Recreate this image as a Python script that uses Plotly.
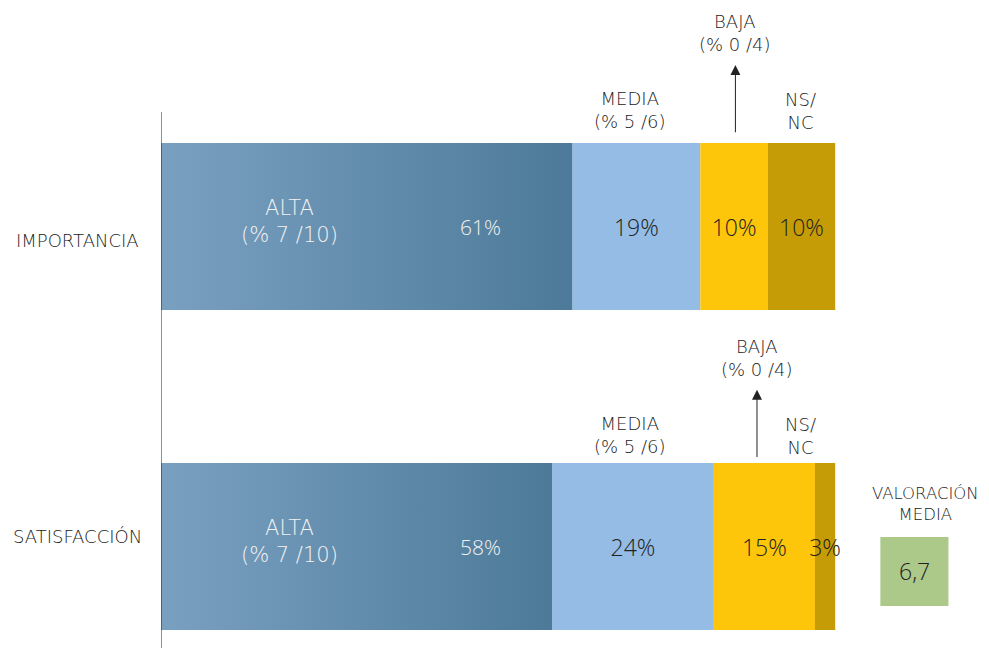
import plotly.graph_objects as go

# data
rows = ["IMPORTANCIA", "SATISFACCIÓN"]
alta = [61, 58]
media = [19, 24]
baja = [10, 15]
nsnc = [10, 3]
valoracion_media = "6,7"

segment_names = ["MEDIA", "BAJA", "NS/NC"]
segment_values = [media, baja, nsnc]
segment_colors = ["#95bce4", "#fdc60b", "#c69c06"]

bar_w = 0.522
label_font = "DejaVu Sans"
num_font = "Open Sans"
dark = "#222222"

fig = go.Figure()

# ALTA segments drawn as filled shapes so they can carry a horizontal gradient
for i, v in enumerate(alta):
    y0, y1 = i - bar_w / 2, i + bar_w / 2
    fig.add_trace(go.Scatter(
        x=[0, v, v, 0, 0], y=[y0, y0, y1, y1, y0],
        mode="lines", fill="toself", line=dict(width=0),
        fillgradient=dict(type="horizontal",
                          colorscale=[[0, "#7aa0c1"], [1, "#4d7a99"]]),
        hoverinfo="skip", showlegend=False))

# the other segments as stacked bars
base = list(alta)
for name, vals, col in zip(segment_names, segment_values, segment_colors):
    fig.add_trace(go.Bar(
        x=vals, y=[0, 1], base=base, orientation="h", width=bar_w,
        marker=dict(color=col, line=dict(width=0)), name=name,
        showlegend=False))
    # percentage labels at segment centres
    fig.add_trace(go.Scatter(
        x=[b + v / 2 for b, v in zip(base, vals)], y=[0.01, 1.01],
        mode="text", text=[f"{v}%" for v in vals],
        textfont=dict(size=23, color=dark, family=num_font, weight=300),
        hoverinfo="skip", showlegend=False, cliponaxis=False))
    base = [b + v for b, v in zip(base, vals)]

# row labels (placed by hand, centred like the original)
for i, (name, dy) in enumerate(zip(rows, [0.042, -0.03])):
    fig.add_annotation(x=-0.0993, xref="paper", y=i + dy, text=name,
                       showarrow=False, xanchor="center",
                       font=dict(size=18, color=dark))

# ALTA labels
for i, v in enumerate(alta):
    fig.add_annotation(x=19.1, y=i - 0.015, text="ALTA<br>(% 7 /10)",
                       showarrow=False,
                       font=dict(size=21, color="#f2f2f2", family=label_font))
    fig.add_annotation(x=47.4, y=i, text=f"{v}%", showarrow=False,
                       font=dict(size=21, color="#f2f2f2", family=num_font))

# category labels above the bars
above = [
    # (row, media_x, baja_x, nsnc_x, dy)
    (0, 69.6, 85.2, 94.8, 0.0),
    (1, 69.6, 88.4, 94.8, 0.015),
]
for row, mx, bx, nx, dy in above:
    fig.add_annotation(x=mx, y=row - 0.363 + dy, text="MEDIA<br>(% 5 /6)",
                       showarrow=False, font=dict(size=18, color=dark))
    fig.add_annotation(x=nx, y=row - 0.36 + dy, text="NS/<br>NC",
                       showarrow=False, font=dict(size=18, color=dark))
    fig.add_annotation(x=bx, y=row - 0.605 + dy, text="BAJA<br>(% 0 /4)",
                       showarrow=False, font=dict(size=18, color=dark))
    fig.add_annotation(x=bx, y=row - 0.505 + dy, ax=bx, ay=row - 0.29 + dy,
                       axref="x", ayref="y", text="", showarrow=True,
                       arrowhead=2, arrowsize=2, arrowwidth=1,
                       arrowcolor=dark)

# vertical axis line (only spans the chart body, not the top labels)
fig.add_shape(type="line", x0=0, x1=0, y0=-0.358, y1=1.4,
              xref="x", yref="y", line=dict(color=dark, width=1))

# valoración media box
fig.add_shape(type="rect", x0=106.7, x1=116.8, y0=0.970, y1=1.186,
              xref="x", yref="y", fillcolor="#adc98a", line=dict(width=0))
fig.add_annotation(x=111.75, y=1.075, text=valoracion_media, showarrow=False,
                   font=dict(size=23, color=dark, family=num_font))
fig.add_annotation(x=113.4, y=0.867, text="VALORACIÓN<br>MEDIA",
                   showarrow=False, font=dict(size=16.5, color=dark))

fig.update_layout(
    width=989, height=648,
    margin=dict(l=153, r=0, t=0, b=0),
    paper_bgcolor="white", plot_bgcolor="white",
    font=dict(family=label_font, size=16, color=dark, weight=200),
    barmode="overlay",
    xaxis=dict(visible=False, range=[0, 124.0]),
    yaxis=dict(visible=False, range=[1.342, -0.683]),
)

fig.write_html("out.html")
